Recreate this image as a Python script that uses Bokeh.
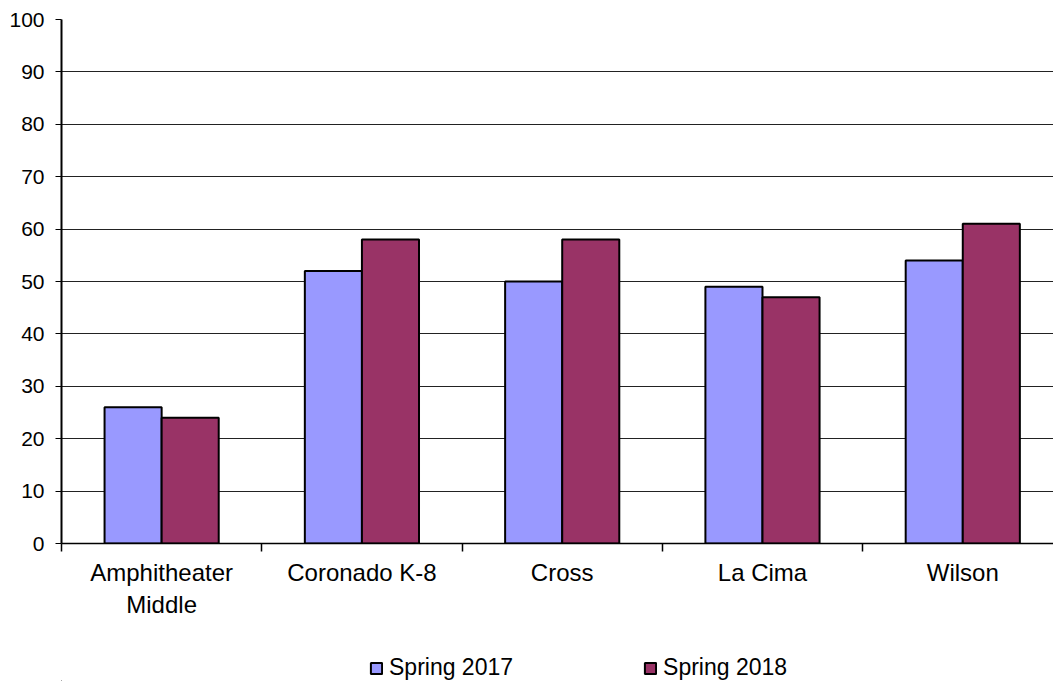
from bokeh.plotting import figure
from bokeh.models import Range1d, FixedTicker, Legend, LegendItem, ColumnDataSource
from bokeh.layouts import column
from bokeh.embed import file_html
from bokeh.resources import INLINE

categories = ["Amphitheater\nMiddle", "Coronado K-8", "Cross", "La Cima", "Wilson"]
spring_2017 = [26, 52, 50, 49, 54]
spring_2018 = [24, 58, 58, 47, 61]
series_names = ["Spring 2017", "Spring 2018"]
series_colors = ["#9999FF", "#993366"]
y_ticks = [0, 10, 20, 30, 40, 50, 60, 70, 80, 90, 100]

FONT = "Liberation Sans"
centers = [i + 0.5 for i in range(len(categories))]
bounds = [float(i) for i in range(len(categories) + 1)]
bw = 0.285

p = figure(width=1053, height=640, output_backend="svg", toolbar_location=None,
           x_range=Range1d(0, 4.953), y_range=Range1d(0, 100),
           min_border_left=61, min_border_right=0, min_border_top=19, min_border_bottom=97)
p.outline_line_color = None

src1 = ColumnDataSource(dict(x=[c - bw / 2 for c in centers], top=spring_2017))
src2 = ColumnDataSource(dict(x=[c + bw / 2 for c in centers], top=spring_2018))
p.vbar(x="x", top="top", width=bw, source=src1, fill_color=series_colors[0],
       line_color="black", line_width=2)
p.vbar(x="x", top="top", width=bw, source=src2, fill_color=series_colors[1],
       line_color="black", line_width=2)

xa = p.xaxis[0]
xa.ticker = FixedTicker(ticks=centers, minor_ticks=bounds)
xa.major_label_overrides = {c: lab for c, lab in zip(centers, categories)}
xa.major_tick_line_color = None
xa.minor_tick_line_color = "black"
xa.minor_tick_out = 8
xa.minor_tick_in = 0
xa.minor_tick_line_width = 1.5
xa.axis_line_color = "black"
xa.axis_line_width = 1.5
xa.major_label_text_font = FONT
xa.major_label_text_font_size = "24px"
xa.major_label_text_color = "black"
xa.major_label_standoff = 7

ya = p.yaxis[0]
ya.ticker = FixedTicker(ticks=y_ticks)
ya.major_tick_out = 6
ya.major_tick_in = 0
ya.major_tick_line_color = "black"
ya.minor_tick_line_color = None
ya.axis_line_color = "black"
ya.axis_line_width = 2
ya.major_label_text_font = FONT
ya.major_label_text_font_size = "21px"
ya.major_label_text_color = "black"
ya.major_label_standoff = 11

p.xgrid.grid_line_color = None
p.ygrid.ticker = FixedTicker(ticks=y_ticks)
p.ygrid.grid_line_color = "#222222"
p.ygrid.grid_line_width = 1

# legend strip below the chart (swatch renderers sit outside the strip's range)
lf = figure(width=1053, height=41, output_backend="svg", toolbar_location=None,
            x_range=Range1d(0, 1), y_range=Range1d(0, 1),
            x_axis_type=None, y_axis_type=None,
            min_border_left=0, min_border_right=0, min_border_top=0, min_border_bottom=0)
lf.outline_line_color = None
lf.xgrid.visible = False
lf.ygrid.visible = False
swatch = dict(x=[-5.0], top=[-5.0])
l1 = lf.vbar(x="x", top="top", width=0.1, source=ColumnDataSource(swatch),
             fill_color=series_colors[0], line_color="black", line_width=2)
l2 = lf.vbar(x="x", top="top", width=0.1, source=ColumnDataSource(swatch),
             fill_color=series_colors[1], line_color="black", line_width=2)
legend = Legend(items=[LegendItem(label=series_names[0], renderers=[l1]),
                       LegendItem(label=series_names[1], renderers=[l2])],
                orientation="horizontal", location=(308, 0))
legend.label_text_font = FONT
legend.label_text_font_size = "23px"
legend.label_text_color = "black"
legend.glyph_width = 14
legend.glyph_height = 14
legend.label_standoff = 6
legend.spacing = 130
legend.border_line_color = None
legend.background_fill_alpha = 0
legend.padding = 0
legend.margin = 0
lf.add_layout(legend, "center")

layout = column(p, lf, spacing=0)
open("out.html", "w").write(file_html(layout, INLINE))
